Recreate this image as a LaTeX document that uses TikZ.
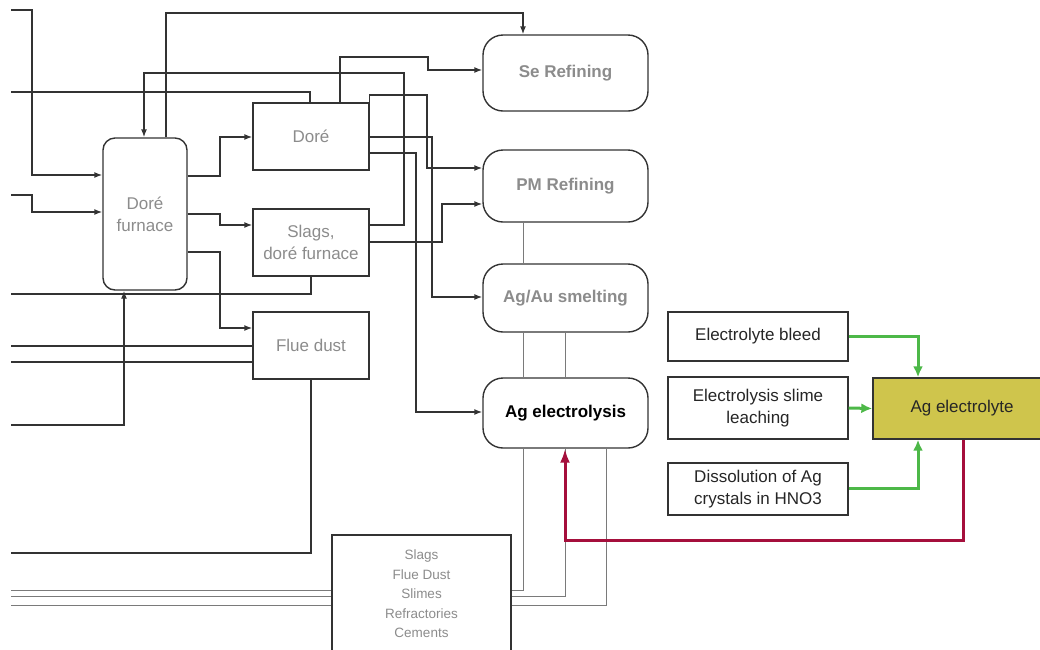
\documentclass[tikz,border=0pt]{standalone}
\usepackage{fontspec}
\setmainfont{Liberation Sans}
\usetikzlibrary{arrows.meta}
\definecolor{boxc}{HTML}{333333}
\definecolor{linec}{HTML}{333333}
\definecolor{txtgray}{HTML}{8C8C8C}
\definecolor{thinc}{HTML}{7A7A7A}
\definecolor{grn}{RGB}{77,184,72}
\definecolor{redc}{RGB}{165,15,60}
\definecolor{olivec}{RGB}{207,197,76}
\begin{document}
\begin{tikzpicture}[x=1pt,y=-1pt,
  sq/.style={draw=boxc, line width=1.4pt, fill=white, inner sep=0pt, align=center,
    font=\fontsize{17}{22}\selectfont},
  rbox/.style={sq, rounded corners=20pt, minimum width=165pt, font=\fontsize{17}{22}\selectfont\bfseries},
  conn/.style={draw=linec, line width=1.4pt},
  arr/.style={conn, -{Latex[length=8pt,width=6pt]}},
  thin/.style={draw=thinc, line width=0.9pt},
  garr/.style={draw=grn, line width=3pt, -{Latex[length=11pt,width=10pt]}},
  rarr/.style={draw=redc, line width=3pt, -{Latex[length=14pt,width=10pt]}}
]
\useasboundingbox (0,0) rectangle (1040,649);
\clip (0,0) rectangle (1040,649);

% nodes
\node[sq, minimum width=84pt, minimum height=152pt, rounded corners=12pt, text=txtgray] (furnace) at (145,214) {Doré\\furnace};
\node[sq, minimum width=116pt, minimum height=67pt, text=txtgray] (dore) at (311,136.5) {Doré};
\node[sq, minimum width=116pt, minimum height=67pt, text=txtgray] (slags) at (311,242.5) {Slags,\\doré furnace};
\node[sq, minimum width=116pt, minimum height=67pt, text=txtgray] (flue) at (311,345.5) {Flue dust};
\node[rbox, minimum height=76pt, text=txtgray] (se) at (565.5,73) {Se Refining};
\node[rbox, minimum height=72pt, text=txtgray] (pm) at (565.5,186) {PM Refining};
\node[rbox, minimum height=68pt, text=txtgray] (agau) at (565.5,298) {Ag/Au smelting};
\node[rbox, minimum height=70pt, text=black] (agel) at (565.5,413) {Ag electrolysis};
\node[sq, minimum width=179pt, minimum height=118pt, text=txtgray, font=\fontsize{13.5}{19.5}\selectfont] (waste) at (421.5,594) {Slags\\Flue Dust\\Slimes\\Refractories\\Cements};
\node[sq, minimum width=180pt, minimum height=49pt, text=black!85] (bleed) at (758,336.5) {Electrolyte bleed};
\node[sq, minimum width=180pt, minimum height=62pt, text=black!85] (slime) at (758,408) {Electrolysis slime\\leaching};
\node[sq, minimum width=180pt, minimum height=52pt, text=black!85] (diss) at (758,489) {Dissolution of Ag\\crystals in HNO3};
\node[sq, fill=olivec, minimum width=178pt, minimum height=61pt, text=black!85] (agely) at (962,408.5) {Ag electrolyte};

% free ends on the left
\coordinate (l1) at (11,10);
\coordinate (l2) at (11,195);
\coordinate (l3) at (11,92);
\coordinate (l4) at (11,294);
\coordinate (l5) at (11,425);
\coordinate (l6) at (11,346);
\coordinate (l7) at (11,362);
\coordinate (l8) at (11,553);
\coordinate (l9) at (11,590);
\coordinate (l10) at (11,596);
\coordinate (l11) at (11,605);

% thin grey links
\draw[thin] (pm.south -| 523,0) -- (agau.north -| 523,0);
\draw[thin] (agau.south -| 523,0) -- (agel.north -| 523,0);
\draw[thin] (agau.south -| 565,0) -- (agel.north -| 565,0);
\draw[thin] (agel.south -| 523,0) |- (waste.east |- 0,590);
\draw[thin] (agel.south -| 565,0) |- (waste.east |- 0,596);
\draw[thin] (agel.south -| 606,0) |- (waste.east |- 0,605);
\draw[thin] (l9) -- (waste.west |- l9);
\draw[thin] (l10) -- (waste.west |- l10);
\draw[thin] (l11) -- (waste.west |- l11);

% black connectors
\draw[arr] (l1) -| (32,175) -- (furnace.west |- 0,175);
\draw[arr] (l2) -| (32,212) -- (furnace.west |- 0,212);
\draw[conn] (l3) -| (dore.north -| 310,0);
\draw[arr] (furnace.north -| 166,0) |- (523,13) -- (se.north -| 523,0);
\draw[arr] (slags.east |- 0,225) -| (404,73) -| (furnace.north -| 144,0);
\draw[arr] (dore.north -| 340,0) |- (428,57) |- (se.west |- 0,70);
\draw[arr] (dore.north east) |- (427,95) |- (pm.west |- 0,168);
\draw[arr] (dore.east |- 0,137) -| (432,297) -- (agau.west |- 0,297);
\draw[arr] (dore.east |- 0,153) -| (416,412) -- (agel.west |- 0,412);
\draw[arr] (slags.east |- 0,242) -| (442,204) -- (pm.west |- 0,204);
\draw[conn] (slags.south -| 311,0) |- (l4);
\draw[arr] (l5) -| (furnace.south -| 124,0);
\draw[conn] (l6) -- (flue.west |- l6);
\draw[conn] (l7) -- (flue.west |- l7);
\draw[conn] (flue.south -| 311,0) |- (l8);
\draw[arr] (furnace.east |- 0,176) -| (220,137) -- (dore.west |- 0,137);
\draw[arr] (furnace.east |- 0,214) -| (220,225) -- (slags.west |- 0,225);
\draw[arr] (furnace.east |- 0,252) -| (220,328) -- (flue.west |- 0,328);

% coloured connectors
\draw[garr] (bleed.east) -| (agely.north -| 918,0);
\draw[garr] (slime.east) -- (agely.west);
\draw[garr] (diss.east |- 0,488) -| (agely.south -| 918,0);
\draw[rarr] (agely.south -| 963,0) |- (565,540) -- (agel.south -| 565,0);
\end{tikzpicture}
\end{document}
